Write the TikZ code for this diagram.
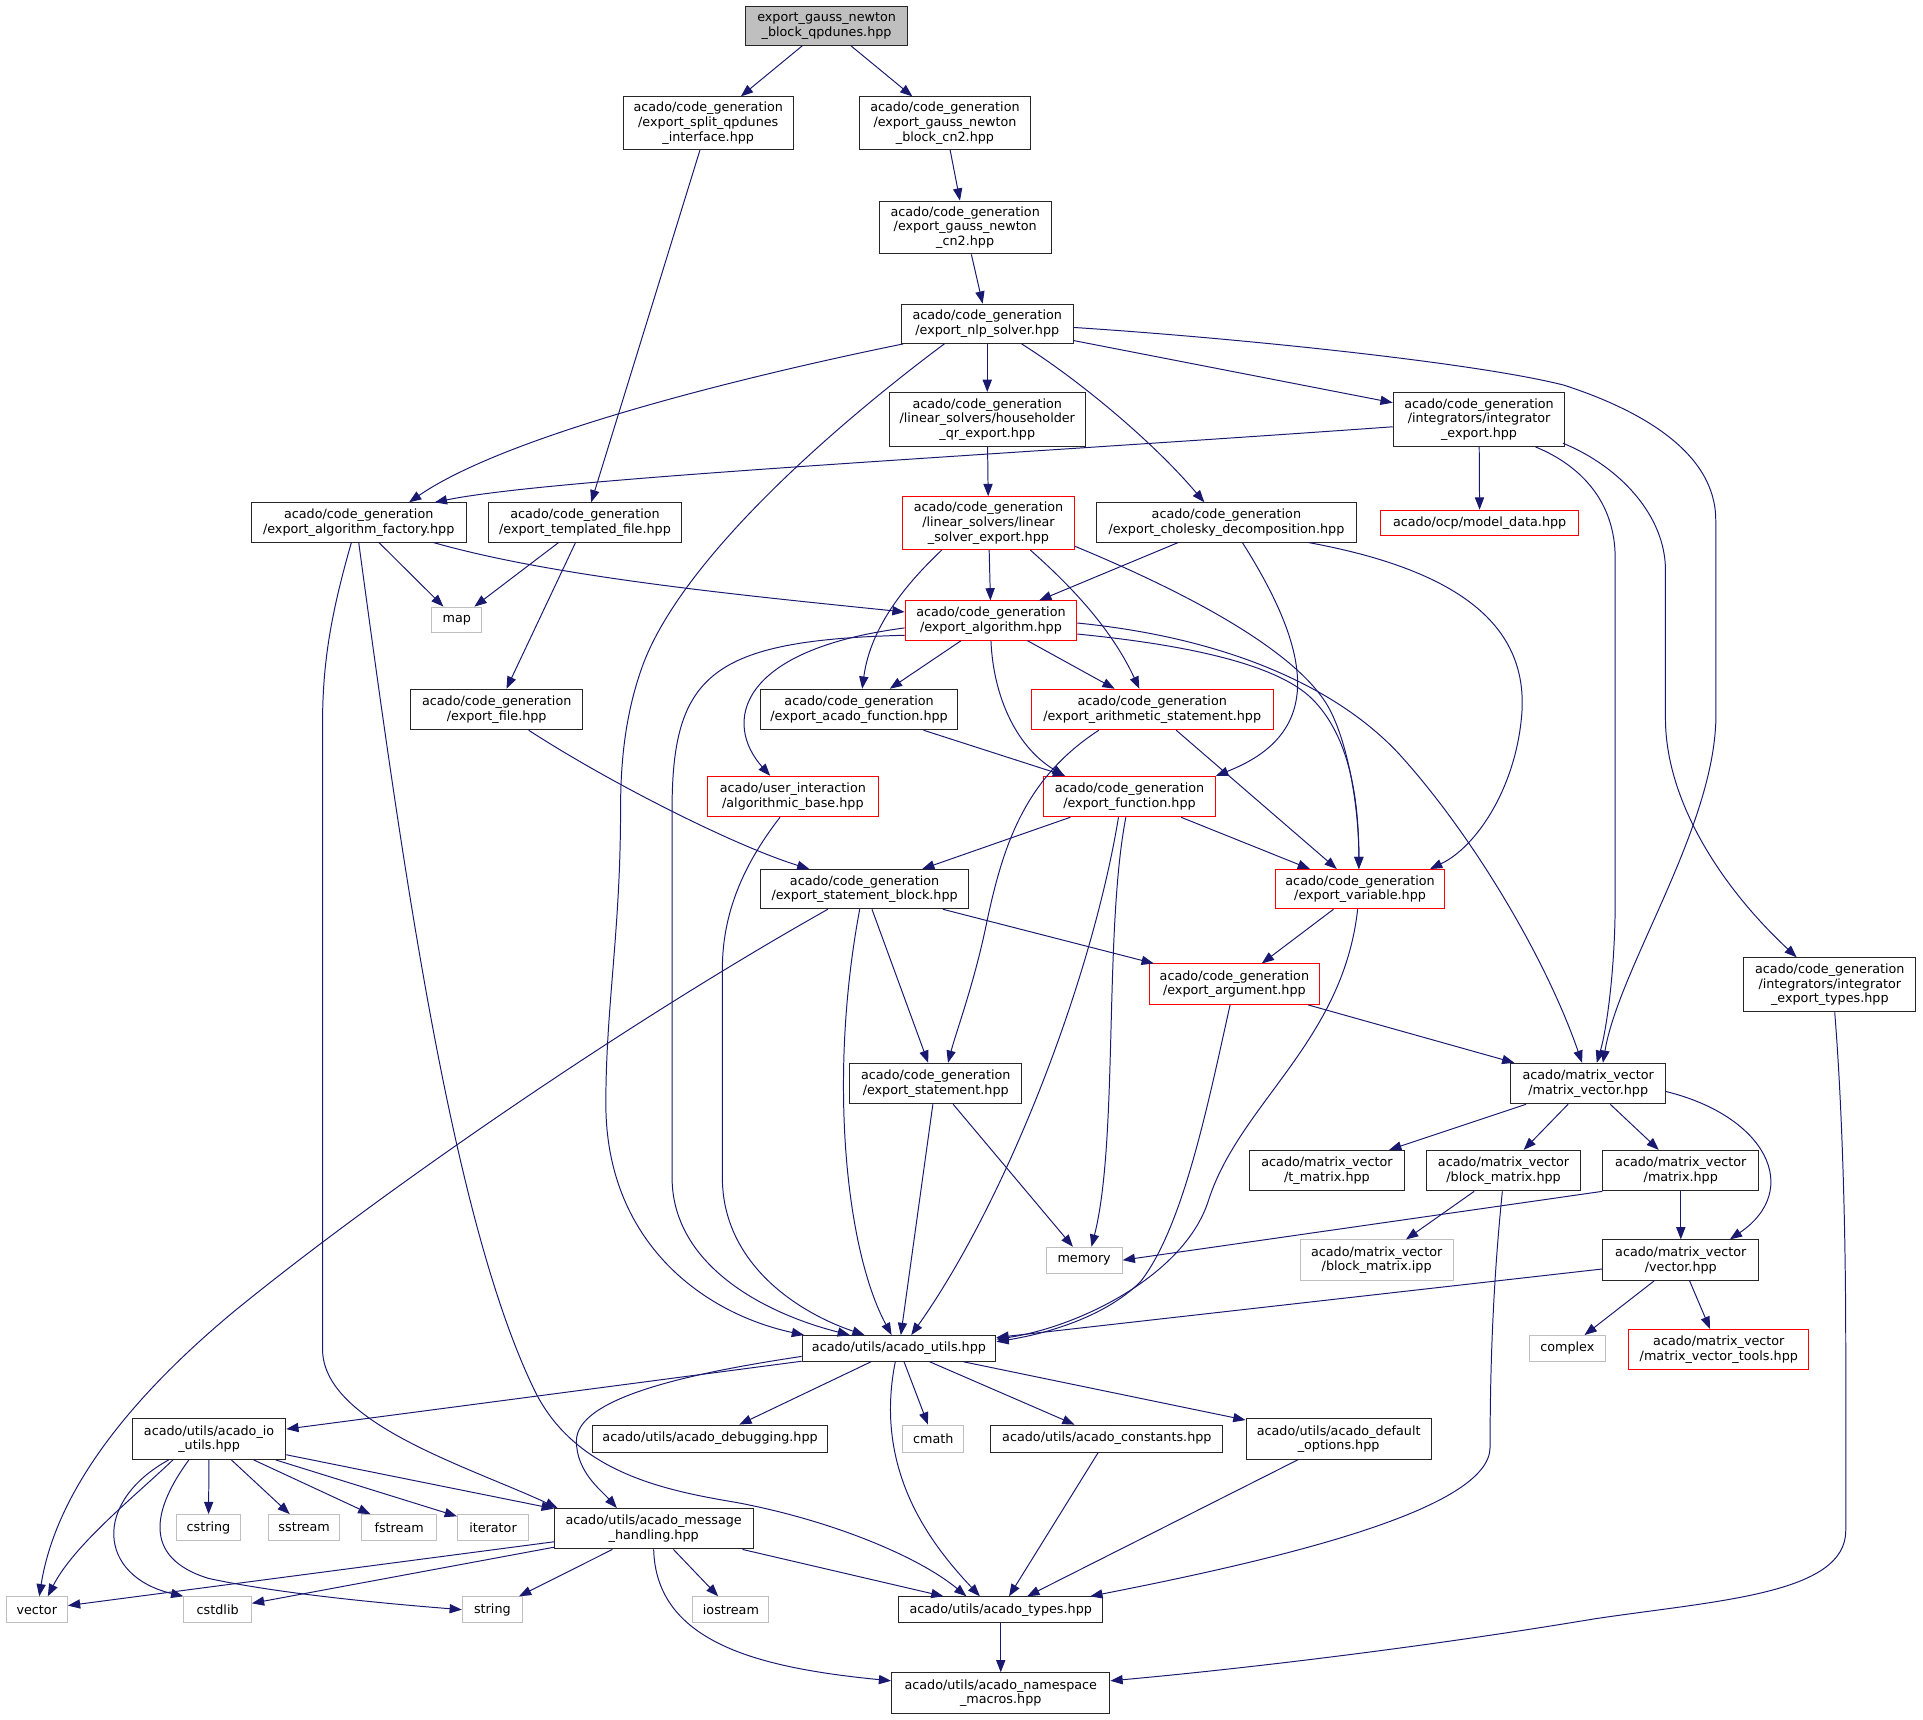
\documentclass[tikz,border=0pt]{standalone}
\usepackage{fontspec}
\setmainfont{DejaVu Sans}
\usetikzlibrary{arrows.meta}
\definecolor{edgeblue}{HTML}{191970}
\definecolor{nodegrey}{HTML}{BFBFBF}
\definecolor{nodered}{HTML}{FF0000}
\begin{document}
\begin{tikzpicture}[x=1pt,y=-1pt,
  box/.style={draw=black!85, line width=0.8pt, rectangle, inner sep=0pt, align=center,
              font=\fontsize{10.4}{12}\selectfont, fill=white},
  redbox/.style={box, draw=nodered},
  greybox/.style={box, draw=nodegrey},
  rootbox/.style={box, fill=nodegrey},
  dep/.style={draw=edgeblue, line width=0.8pt, -{Triangle[length=10pt,width=7.5pt]}}]
\useasboundingbox[fill=white] (0,0) rectangle (1568,1402);

% ---------------- nodes ----------------
\node[rootbox, minimum width=132pt, minimum height=32pt] (n1) at (674,21) {export\_gauss\_newton\\\_block\_qpdunes.hpp};
\node[box, minimum width=139pt, minimum height=43pt] (n2) at (577.5,100.5) {acado/code\_generation\\/export\_split\_qpdunes\\\_interface.hpp};
\node[box, minimum width=139pt, minimum height=43pt] (n3) at (770.5,100.5) {acado/code\_generation\\/export\_gauss\_newton\\\_block\_cn2.hpp};
\node[box, minimum width=140pt, minimum height=43pt] (n4) at (787,185.5) {acado/code\_generation\\/export\_gauss\_newton\\\_cn2.hpp};
\node[box, minimum width=140pt, minimum height=32pt] (n5) at (805,264) {acado/code\_generation\\/export\_nlp\_solver.hpp};
\node[box, minimum width=160pt, minimum height=44pt] (n6) at (805,342) {acado/code\_generation\\/linear\_solvers/householder\\\_qr\_export.hpp};
\node[box, minimum width=140pt, minimum height=44pt] (n7) at (1206,342) {acado/code\_generation\\/integrators/integrator\\\_export.hpp};
\node[box, minimum width=175pt, minimum height=32pt] (n8) at (292.5,426) {acado/code\_generation\\/export\_algorithm\_factory.hpp};
\node[box, minimum width=158pt, minimum height=32pt] (n9) at (477,426) {acado/code\_generation\\/export\_templated\_file.hpp};
\node[redbox, minimum width=140pt, minimum height=43pt] (n10) at (806,426.5) {acado/code\_generation\\/linear\_solvers/linear\\\_solver\_export.hpp};
\node[box, minimum width=212pt, minimum height=32pt] (n11) at (1000,426) {acado/code\_generation\\/export\_cholesky\_decomposition.hpp};
\node[redbox, minimum width=161pt, minimum height=21pt] (n12) at (1206.5,426.5) {acado/ocp/model\_data.hpp};
\node[greybox, minimum width=41pt, minimum height=21pt] (n13) at (372.5,505.5) {map};
\node[redbox, minimum width=140pt, minimum height=32pt] (n14) at (808,506) {acado/code\_generation\\/export\_algorithm.hpp};
\node[box, minimum width=140pt, minimum height=33pt] (n15) at (405,578.5) {acado/code\_generation\\/export\_file.hpp};
\node[box, minimum width=161pt, minimum height=33pt] (n16) at (700.5,578.5) {acado/code\_generation\\/export\_acado\_function.hpp};
\node[redbox, minimum width=197pt, minimum height=33pt] (n17) at (939.5,578.5) {acado/code\_generation\\/export\_arithmetic\_statement.hpp};
\node[redbox, minimum width=139pt, minimum height=33pt] (n18) at (646.5,649.5) {acado/user\_interaction\\/algorithmic\_base.hpp};
\node[redbox, minimum width=140pt, minimum height=33pt] (n19) at (921,649.5) {acado/code\_generation\\/export\_function.hpp};
\node[box, minimum width=170pt, minimum height=32pt] (n20) at (705,725) {acado/code\_generation\\/export\_statement\_block.hpp};
\node[redbox, minimum width=138pt, minimum height=32pt] (n21) at (1109,725) {acado/code\_generation\\/export\_variable.hpp};
\node[redbox, minimum width=139pt, minimum height=33pt] (n22) at (1006.5,802.5) {acado/code\_generation\\/export\_argument.hpp};
\node[box, minimum width=140pt, minimum height=44pt] (n23) at (1492,803) {acado/code\_generation\\/integrators/integrator\\\_export\_types.hpp};
\node[box, minimum width=140pt, minimum height=33pt] (n24) at (763,883.5) {acado/code\_generation\\/export\_statement.hpp};
\node[box, minimum width=126pt, minimum height=33pt] (n25) at (1295,883.5) {acado/matrix\_vector\\/matrix\_vector.hpp};
\node[box, minimum width=126pt, minimum height=33pt] (n26) at (1082,954.5) {acado/matrix\_vector\\/t\_matrix.hpp};
\node[box, minimum width=126pt, minimum height=33pt] (n27) at (1226,954.5) {acado/matrix\_vector\\/block\_matrix.hpp};
\node[box, minimum width=127pt, minimum height=33pt] (n28) at (1370.5,954.5) {acado/matrix\_vector\\/matrix.hpp};
\node[greybox, minimum width=62pt, minimum height=21pt] (n29) at (884,1027.5) {memory};
\node[greybox, minimum width=125pt, minimum height=33pt] (n30) at (1122.5,1027.5) {acado/matrix\_vector\\/block\_matrix.ipp};
\node[box, minimum width=127pt, minimum height=33pt] (n31) at (1370.5,1027.5) {acado/matrix\_vector\\/vector.hpp};
\node[box, minimum width=158pt, minimum height=21pt] (n32) at (733,1099.5) {acado/utils/acado\_utils.hpp};
\node[greybox, minimum width=62pt, minimum height=21pt] (n33) at (1278,1099.5) {complex};
\node[redbox, minimum width=147pt, minimum height=33pt] (n34) at (1401.5,1100.5) {acado/matrix\_vector\\/matrix\_vector\_tools.hpp};
\node[box, minimum width=125pt, minimum height=33pt] (n35) at (170.5,1173.5) {acado/utils/acado\_io\\\_utils.hpp};
\node[box, minimum width=192pt, minimum height=22pt] (n36) at (579,1173) {acado/utils/acado\_debugging.hpp};
\node[greybox, minimum width=50pt, minimum height=22pt] (n37) at (761,1173) {cmath};
\node[box, minimum width=189pt, minimum height=22pt] (n38) at (902.5,1173) {acado/utils/acado\_constants.hpp};
\node[box, minimum width=151pt, minimum height=33pt] (n39) at (1091.5,1173.5) {acado/utils/acado\_default\\\_options.hpp};
\node[greybox, minimum width=52pt, minimum height=21pt] (n40) at (170,1245.5) {cstring};
\node[greybox, minimum width=58pt, minimum height=21pt] (n41) at (248,1245.5) {sstream};
\node[greybox, minimum width=61pt, minimum height=21pt] (n42) at (325.5,1245.5) {fstream};
\node[greybox, minimum width=58pt, minimum height=21pt] (n43) at (402,1245.5) {iterator};
\node[box, minimum width=162pt, minimum height=33pt] (n44) at (533,1246.5) {acado/utils/acado\_message\\\_handling.hpp};
\node[greybox, minimum width=50pt, minimum height=21pt] (n45) at (30,1312.5) {vector};
\node[greybox, minimum width=55pt, minimum height=21pt] (n46) at (177.5,1312.5) {cstdlib};
\node[greybox, minimum width=49pt, minimum height=21pt] (n47) at (401.5,1312.5) {string};
\node[greybox, minimum width=62pt, minimum height=21pt] (n48) at (596,1312.5) {iostream};
\node[box, minimum width=166pt, minimum height=21pt] (n49) at (816,1312.5) {acado/utils/acado\_types.hpp};
\node[box, minimum width=178pt, minimum height=33pt] (n50) at (816,1380.5) {acado/utils/acado\_namespace\\\_macros.hpp};

% ---------------- straight edges ----------------
\foreach \a/\b in {n1/n2, n1/n3, n2/n9, n3/n4, n4/n5, n5/n6, n5/n7, n6/n10, n7/n12,
  n8/n13, n9/n13, n9/n15, n10/n14, n11/n14, n14/n16, n14/n17, n16/n19, n17/n21,
  n19/n20, n19/n21, n20/n24, n20/n22, n21/n22, n22/n25, n24/n29, n24/n32,
  n25/n26, n25/n27, n25/n28, n27/n30, n28/n31, n31/n32, n31/n33, n31/n34,
  n32/n35, n32/n36, n32/n37, n32/n38, n32/n39, n35/n40, n35/n41, n35/n42, n35/n43,
  n35/n44, n44/n45, n44/n46, n44/n47, n44/n48, n44/n49, n38/n49, n39/n49, n49/n50}
  \draw[dep] (\a) -- (\b);
\draw[dep] (n28.south west) -- (n29.east);

% ---------------- curved edges ----------------
\draw[dep] ([xshift=2pt]n5.south west) .. controls (640,300) and (420,350) .. ([xshift=41pt]n8.north);
\draw[dep] ([xshift=-35pt]n5.south) .. controls (690,340) and (560,450) .. (525,540)
  .. controls (510,580) and (506,620) .. (506,660) .. controls (506,760) and (494,820) .. (494,900)
  .. controls (494,1010) and (570,1070) .. ([xshift=2pt]n32.north west);
\draw[dep] ([xshift=28pt]n5.south) .. controls (880,310) and (940,360) .. ([xshift=-18pt]n11.north);
\draw[dep] ([yshift=-3pt]n5.east) .. controls (1000,275) and (1200,295) .. (1275,314)
  .. controls (1340,335) and (1399,370) .. (1399,424) -- (1399,590)
  .. controls (1395,680) and (1320,790) .. ([xshift=12pt]n25.north);
\draw[dep] ([yshift=-6pt]n7.west) .. controls (800,372) and (450,390) .. ([xshift=62pt]n8.north);
\draw[dep] ([xshift=46pt]n7.south) .. controls (1290,380) and (1317,410) .. (1317,455) -- (1317,735)
  .. controls (1317,790) and (1310,840) .. ([xshift=7pt]n25.north);
\draw[dep] ([xshift=-2pt,yshift=3pt]n7.south east) .. controls (1320,380) and (1358,420) .. (1358,465) -- (1358,586)
  .. controls (1358,650) and (1400,720) .. ([xshift=-27pt]n23.north);
\draw[dep] ([xshift=61pt]n8.south) .. controls (450,470) and (600,485) .. ([yshift=7pt]n14.west);
\draw[dep] ([xshift=-6pt]n8.south) .. controls (270,500) and (263,540) .. (263,590) -- (263,1100)
  .. controls (263,1160) and (380,1195) .. ([xshift=3pt]n44.north west);
\draw[dep] (n8.south) .. controls (330,720) and (370,1000) .. (437,1136)
  .. controls (470,1200) and (540,1215) .. (600,1225)
  .. controls (680,1240) and (750,1270) .. ([xshift=-28pt]n49.north);
\draw[dep] ([xshift=-38pt]n10.south) .. controls (740,475) and (710,510) .. ([xshift=2.5pt]n16.north);
\draw[dep] ([xshift=34pt]n10.south) .. controls (870,475) and (905,510) .. ([xshift=-10.5pt]n17.north);
\draw[dep] ([yshift=3pt]n10.south east) .. controls (960,480) and (1060,530) .. (1085,580)
  .. controls (1100,610) and (1108,660) .. ([xshift=-1pt]n21.north);
\draw[dep] ([xshift=13pt]n11.south) .. controls (1075,540) and (1075,600) .. (n19.north east);
\draw[dep] ([xshift=67pt]n11.south) .. controls (1190,465) and (1245,510) .. (1241,580)
  .. controls (1237,640) and (1205,690) .. ([xshift=57pt]n21.north);
\draw[dep] ([yshift=-6pt]n14.west) .. controls (600,530) and (590,590) .. ([xshift=-18.5pt]n18.north);
\draw[dep] ([yshift=-12pt]n14.west) .. controls (580,522) and (548,550) .. (548,660) -- (548,960)
  .. controls (548,1030) and (620,1070) .. ([xshift=-40pt]n32.north);
\draw[dep] (n14.south) .. controls (810,570) and (830,610) .. ([xshift=-53pt]n19.north);
\draw[dep] ([yshift=-11pt]n14.east) .. controls (960,525) and (1040,540) .. (1070,570)
  .. controls (1100,600) and (1108,650) .. ([xshift=-1pt]n21.north);
\draw[dep] ([yshift=-2pt]n14.east) .. controls (1000,520) and (1090,560) .. (1141,615)
  .. controls (1200,680) and (1260,780) .. ([xshift=-5pt]n25.north);
\draw[dep] ([xshift=26pt]n15.south) .. controls (500,640) and (600,690) .. ([xshift=-45pt]n20.north);
\draw[dep] ([xshift=-43.5pt]n17.south) .. controls (835,635) and (818,690) .. (805,750)
  .. controls (795,800) and (780,840) .. ([xshift=10pt]n24.north);
\draw[dep] ([xshift=-10.5pt]n18.south) .. controls (610,700) and (589,740) .. (589,790) -- (589,960)
  .. controls (589,1030) and (650,1070) .. ([xshift=-28pt]n32.north);
\draw[dep] ([xshift=-3pt]n19.south) .. controls (900,760) and (912,930) .. ([xshift=6pt]n29.north);
\draw[dep] ([xshift=-9pt]n19.south) .. controls (890,800) and (820,980) .. ([xshift=10pt]n32.north);
\draw[dep] ([xshift=-30pt]n20.south) .. controls (500,840) and (300,980) .. (190,1070)
  .. controls (100,1145) and (45,1220) .. ([xshift=2pt]n45.north);
\draw[dep] ([xshift=-4pt]n20.south) .. controls (675,880) and (690,1020) .. ([xshift=-6pt]n32.north);
\draw[dep] ([xshift=-2pt]n21.south) .. controls (1095,850) and (1010,900) .. (985,980)
  .. controls (965,1040) and (880,1082) .. ([yshift=7.5pt]n32.east);
\draw[dep] ([xshift=-3.5pt]n22.south) .. controls (985,900) and (965,1000) .. (930,1045)
  .. controls (900,1075) and (850,1088) .. ([yshift=5.5pt]n32.east);
\draw[dep] ([xshift=4pt]n23.south) .. controls (1502,900) and (1505,1000) .. (1505,1100) -- (1505,1248)
  .. controls (1505,1300) and (1400,1305) .. (1300,1320)
  .. controls (1150,1345) and (1000,1362) .. ([yshift=10pt]n50.east);
\draw[dep] ([yshift=-6.5pt]n25.east) .. controls (1440,910) and (1470,970) .. ([xshift=40pt]n31.north);
\draw[dep] ([xshift=-1pt]n27.south) .. controls (1217,1050) and (1215,1120) .. (1215,1180)
  .. controls (1215,1230) and (1050,1270) .. ([xshift=73pt]n49.north);
\draw[dep] ([yshift=-6.5pt]n32.west) .. controls (560,1120) and (470,1140) .. (470,1175)
  .. controls (470,1200) and (490,1215) .. ([xshift=-30pt]n44.north);
\draw[dep] ([xshift=-3pt]n32.south) .. controls (712,1200) and (760,1260) .. ([xshift=-17pt]n49.north);
\draw[dep] ([xshift=-29.5pt]n35.south) .. controls (110,1220) and (60,1260) .. ([xshift=9pt]n45.north);
\draw[dep] ([xshift=-33pt]n35.south) .. controls (75,1225) and (80,1285) .. ([xshift=-28pt]n46.north);
\draw[dep] ([xshift=-16.5pt]n35.south) .. controls (125,1230) and (115,1270) .. (170,1287)
  .. controls (230,1300) and (320,1308) .. (n47.west);
\draw[dep] (n44.south) .. controls (535,1340) and (620,1360) .. ([yshift=10pt]n50.west);
\end{tikzpicture}
\end{document}
